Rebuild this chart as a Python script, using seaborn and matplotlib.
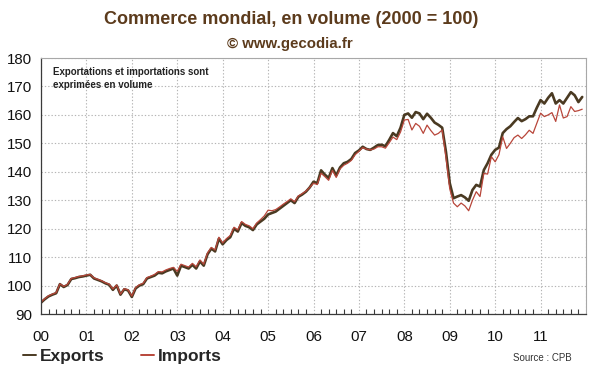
import numpy as np
import pandas as pd
import matplotlib
matplotlib.use("Agg")
import matplotlib.pyplot as plt
from matplotlib.ticker import MultipleLocator, FixedLocator
import seaborn as sns

# ---- data (monthly, Jan 2000 - Dec 2011, index 2000 = 100) ----
exports = [
    94.0, 95.2, 96.2, 96.8, 97.3, 100.5, 99.5, 100.2, 102.3, 102.6, 103.0, 103.2,   # 2000
    103.5, 103.8, 102.5, 102.0, 101.5, 100.8, 100.3, 98.5, 100.0, 96.8, 98.7, 98.3,  # 2001
    96.0, 99.0, 100.0, 100.5, 102.5, 103.0, 103.5, 104.5, 104.3, 105.0, 105.5, 106.0,  # 2002
    103.5, 107.0, 106.5, 106.0, 107.3, 106.0, 108.5, 107.0, 111.0, 113.0, 112.0, 116.5,  # 2003
    114.5, 116.0, 117.0, 120.0, 119.0, 122.0, 121.0, 120.5, 119.5, 121.5, 122.5, 123.5,  # 2004
    125.0, 125.5, 126.0, 127.0, 128.0, 129.0, 130.0, 129.0, 131.2, 132.0, 133.0, 134.5,  # 2005
    136.5, 136.0, 140.5, 139.0, 137.8, 141.3, 138.7, 141.5, 143.0, 143.5, 144.5, 146.6,  # 2006
    147.5, 148.8, 148.0, 147.7, 148.5, 149.4, 149.5, 149.0, 151.2, 153.6, 152.5, 155.5,  # 2007
    160.0, 160.5, 159.0, 161.0, 160.5, 158.5, 160.4, 159.0, 157.3, 156.5, 155.5, 147.0,  # 2008
    136.0, 130.7, 131.3, 131.8, 131.0, 129.8, 133.6, 135.4, 134.8, 140.6, 143.0, 146.0,  # 2009
    147.7, 148.5, 153.6, 155.0, 156.0, 157.5, 158.9, 157.8, 158.5, 159.5, 159.5, 162.5,  # 2010
    165.2, 164.0, 166.0, 167.6, 164.0, 165.2, 164.0, 166.0, 168.0, 166.9, 164.5, 166.3,  # 2011
]
imports = [
    94.2, 95.4, 96.4, 97.0, 97.5, 100.6, 99.7, 100.4, 102.5, 102.8, 103.2, 103.4,   # 2000
    103.7, 103.9, 102.7, 102.2, 101.7, 101.0, 100.5, 98.8, 100.2, 97.0, 98.9, 98.5,  # 2001
    96.3, 99.3, 100.3, 100.8, 102.8, 103.3, 103.9, 104.9, 104.8, 105.5, 106.0, 106.4,  # 2002
    105.0, 107.5, 107.0, 106.5, 107.8, 106.6, 109.0, 107.5, 111.5, 113.4, 112.5, 117.0,  # 2003
    115.0, 116.5, 117.6, 120.5, 119.6, 122.5, 121.5, 121.0, 120.0, 122.0, 123.2, 124.5,  # 2004
    126.5, 126.3, 126.7, 127.6, 128.6, 129.5, 130.5, 129.5, 131.5, 132.3, 133.2, 134.5,  # 2005
    136.0, 135.5, 139.5, 138.3, 137.0, 140.5, 138.0, 141.0, 142.3, 143.0, 144.0, 146.0,  # 2006
    147.2, 148.5, 148.0, 147.7, 148.0, 148.8, 148.8, 148.3, 150.2, 152.2, 151.3, 154.0,  # 2007
    158.2, 158.4, 154.7, 157.0, 156.0, 153.5, 156.4, 154.5, 152.9, 153.5, 154.7, 145.0,  # 2008
    134.0, 129.0, 127.7, 129.0, 128.0, 126.3, 130.0, 133.0, 131.3, 139.4, 139.2, 145.3,  # 2009
    143.5, 146.0, 152.3, 148.2, 150.0, 152.0, 152.9, 151.7, 153.0, 154.6, 153.5, 157.0,  # 2010
    160.6, 159.4, 160.0, 160.8, 157.7, 163.5, 158.9, 159.4, 162.9, 161.2, 161.5, 162.0,  # 2011
]
year_labels = ["00", "01", "02", "03", "04", "05", "06", "07", "08", "09", "10", "11"]
series_names = ["Exports", "Imports"]

n = len(exports)
t = 2000 + np.arange(n) / 12.0
df = pd.DataFrame({
    "t": np.concatenate([t, t]),
    "value": exports + imports,
    "series": [series_names[0]] * n + [series_names[1]] * n,
})

sns.set_style("white")
plt.rcParams["font.family"] = ["Liberation Sans", "DejaVu Sans"]

exp_color = "#4a3a22"
imp_color = "#b8463a"
title_color = "#5c3b1c"

fig = plt.figure(figsize=(6.0, 3.72), dpi=100)
ax = fig.add_axes([41 / 600, 1 - 314 / 372, (586 - 41) / 600, (314 - 58) / 372])

sns.lineplot(data=df[df.series == "Exports"], x="t", y="value", color=exp_color,
             lw=1.9, ax=ax, label="Exports", legend=False)
sns.lineplot(data=df[df.series == "Imports"], x="t", y="value", color=imp_color,
             lw=0.9, ax=ax, label="Imports", legend=False)

ax.set_xlim(2000, 2012)
ax.set_ylim(90, 180)
ax.set_xlabel("")
ax.set_ylabel("")

years = np.arange(2000, 2012)
ax.xaxis.set_major_locator(FixedLocator(list(years) + [2012]))
ax.set_xticklabels(year_labels + [""])
ax.xaxis.set_minor_locator(MultipleLocator(2 / 12))
ax.yaxis.set_major_locator(MultipleLocator(10))

ax.grid(True, which="major", axis="both", color="#b5b5b5", linestyle=(0, (1.2, 1.8)), lw=0.8)
ax.set_axisbelow(True)

for s in ["top", "right"]:
    ax.spines[s].set_color("#a8a8a8")
    ax.spines[s].set_linewidth(0.8)
for s in ["left", "bottom"]:
    ax.spines[s].set_color("#3a3a3a")
    ax.spines[s].set_linewidth(0.9)

ax.tick_params(axis="x", which="major", direction="inout", length=7, width=0.9,
               color="#3a3a3a", labelsize=10.8, pad=8, labelcolor="#111111")
ax.tick_params(axis="x", which="minor", direction="in", length=3.5, width=0.8,
               color="#3a3a3a", bottom=True)
ax.tick_params(axis="y", which="major", direction="out", length=3.5, width=0.8,
               color="#3a3a3a", labelsize=10.8, pad=3, labelcolor="#111111")

fig.text(0.485, 0.947, "Commerce mondial, en volume (2000 = 100)", ha="center", va="center",
         fontsize=13, fontweight="bold", color=title_color)
fig.text(0.483, 0.882, "\u00a9 www.gecodia.fr", ha="center", va="center",
         fontsize=10.8, fontweight="bold", color=title_color)

ax.text(0.022, 0.965, "Exportations et importations sont\nexprimées en volume",
        transform=ax.transAxes, ha="left", va="top", fontsize=7.0, fontweight="bold",
        color="#222222", linespacing=1.35)

handles, labels = ax.get_legend_handles_labels()
leg = fig.legend(handles, labels, loc="center left", bbox_to_anchor=(0.012, 0.043), ncol=2,
                 frameon=False, handlelength=0.75, handletextpad=0.25, columnspacing=2.05,
                 prop={"weight": "bold", "size": 12.5})
for line in leg.get_lines():
    line.set_linewidth(1.4)

fig.text(0.953, 0.038, "Source : CPB", ha="right", va="center", fontsize=7, color="#333333")

fig.savefig("out.png", dpi=100)
